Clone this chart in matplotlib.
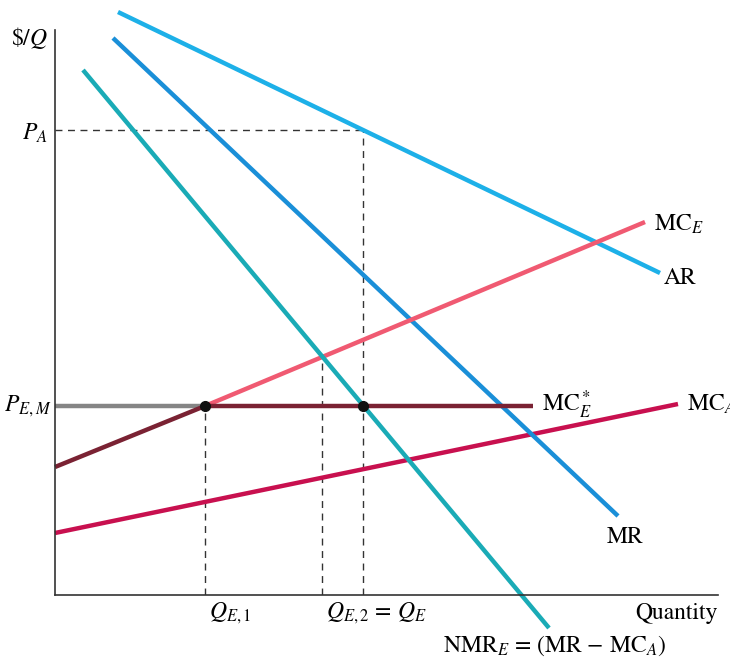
import matplotlib
matplotlib.use("Agg")
import matplotlib.pyplot as plt

plt.rcParams['font.family'] = ['STIXGeneral', 'DejaVu Serif']
plt.rcParams['mathtext.fontset'] = 'stix'

# Curve endpoints (quantity, $/Q) in chart units
ar_x, ar_y = [63, 605], [583, 322]
mr_x, mr_y = [58, 563], [557, 79]
nmr_x, nmr_y = [28, 494], [525, -33]
mce_x, mce_y = [150, 590], [189, 373]
mce_low_x, mce_low_y = [0, 150], [128, 189]
mcestar_x, mcestar_y = [150, 478], [189, 189]
pem_x, pem_y = [0, 150], [189, 189]
mca_x, mca_y = [0, 623], [62, 191]

P_A = 465
P_EM = 189
Q_E1 = 150
Q_mid = 267
Q_E2 = 308
Y_mid = 240

fig = plt.figure(figsize=(7.3, 6.72), dpi=100)
ax = fig.add_axes([55/730, 77/672, 663/730, 565/672])
ax.set_xlim(0, 663)
ax.set_ylim(0, 565)
for s in ['top', 'right']:
    ax.spines[s].set_visible(False)
for s in ['left', 'bottom']:
    ax.spines[s].set_color('#333333')
    ax.spines[s].set_linewidth(1.2)
ax.set_xticks([])
ax.set_yticks([])

lw = 3.2
dash = dict(color='#333333', lw=1.0, ls=(0, (5, 4)), zorder=1)
ax.plot([0, Q_E2], [P_A, P_A], **dash)
ax.plot([Q_E2, Q_E2], [0, P_A], **dash)
ax.plot([Q_E1, Q_E1], [0, P_EM], **dash)
ax.plot([Q_mid, Q_mid], [0, Y_mid], **dash)

ax.plot(mca_x, mca_y, color='#c8104f', lw=lw, clip_on=False, solid_capstyle='butt')
ax.plot(ar_x, ar_y, color='#1db0e8', lw=lw, clip_on=False, solid_capstyle='butt')
ax.plot(mr_x, mr_y, color='#1a8fd8', lw=lw, clip_on=False, solid_capstyle='butt')
ax.plot(mce_x, mce_y, color='#f05a72', lw=lw, clip_on=False, solid_capstyle='butt')
ax.plot(nmr_x, nmr_y, color='#1aabb6', lw=lw, clip_on=False, solid_capstyle='butt')
ax.plot(pem_x, pem_y, color='#858585', lw=lw, clip_on=False, solid_capstyle='butt')
ax.plot(mce_low_x, mce_low_y, color='#7a2233', lw=lw, clip_on=False, solid_capstyle='butt')
ax.plot(mcestar_x, mcestar_y, color='#7a2233', lw=lw, clip_on=False, solid_capstyle='butt')

ax.plot([Q_E1, Q_E2], [P_EM, P_EM], 'o', color='#111111', ms=7, zorder=5)

fs = 17
ax.text(-7, 557, r'\$/$Q$', ha='right', va='center', fontsize=fs)
ax.text(-7, P_A - 3, r'$P_A$', ha='right', va='center', fontsize=fs)
ax.text(-4, P_EM, r'$P_{E,M}$', ha='right', va='center', fontsize=fs)
ax.text(487, P_EM + 1, r'MC$_E^*$', ha='left', va='center', fontsize=fs)
ax.text(632, 191, r'MC$_A$', ha='left', va='center', fontsize=fs, clip_on=False)
ax.text(599, 371, r'MC$_E$', ha='left', va='center', fontsize=fs)
ax.text(609, 317, 'AR', ha='left', va='center', fontsize=fs)
ax.text(552, 58, 'MR', ha='left', va='center', fontsize=fs)
ax.text(Q_E1 + 25, -18, r'$Q_{E,1}$', ha='center', va='center', fontsize=fs)
ax.text(Q_E2 + 13, -18, r'$Q_{E,2}$ = $Q_E$', ha='center', va='center', fontsize=fs)
ax.text(663, -18, 'Quantity', ha='right', va='center', fontsize=fs)
ax.text(500, -51, r'NMR$_E$ = (MR $-$ MC$_A$)', ha='center', va='center', fontsize=fs)

fig.savefig('out.png', dpi=100)
